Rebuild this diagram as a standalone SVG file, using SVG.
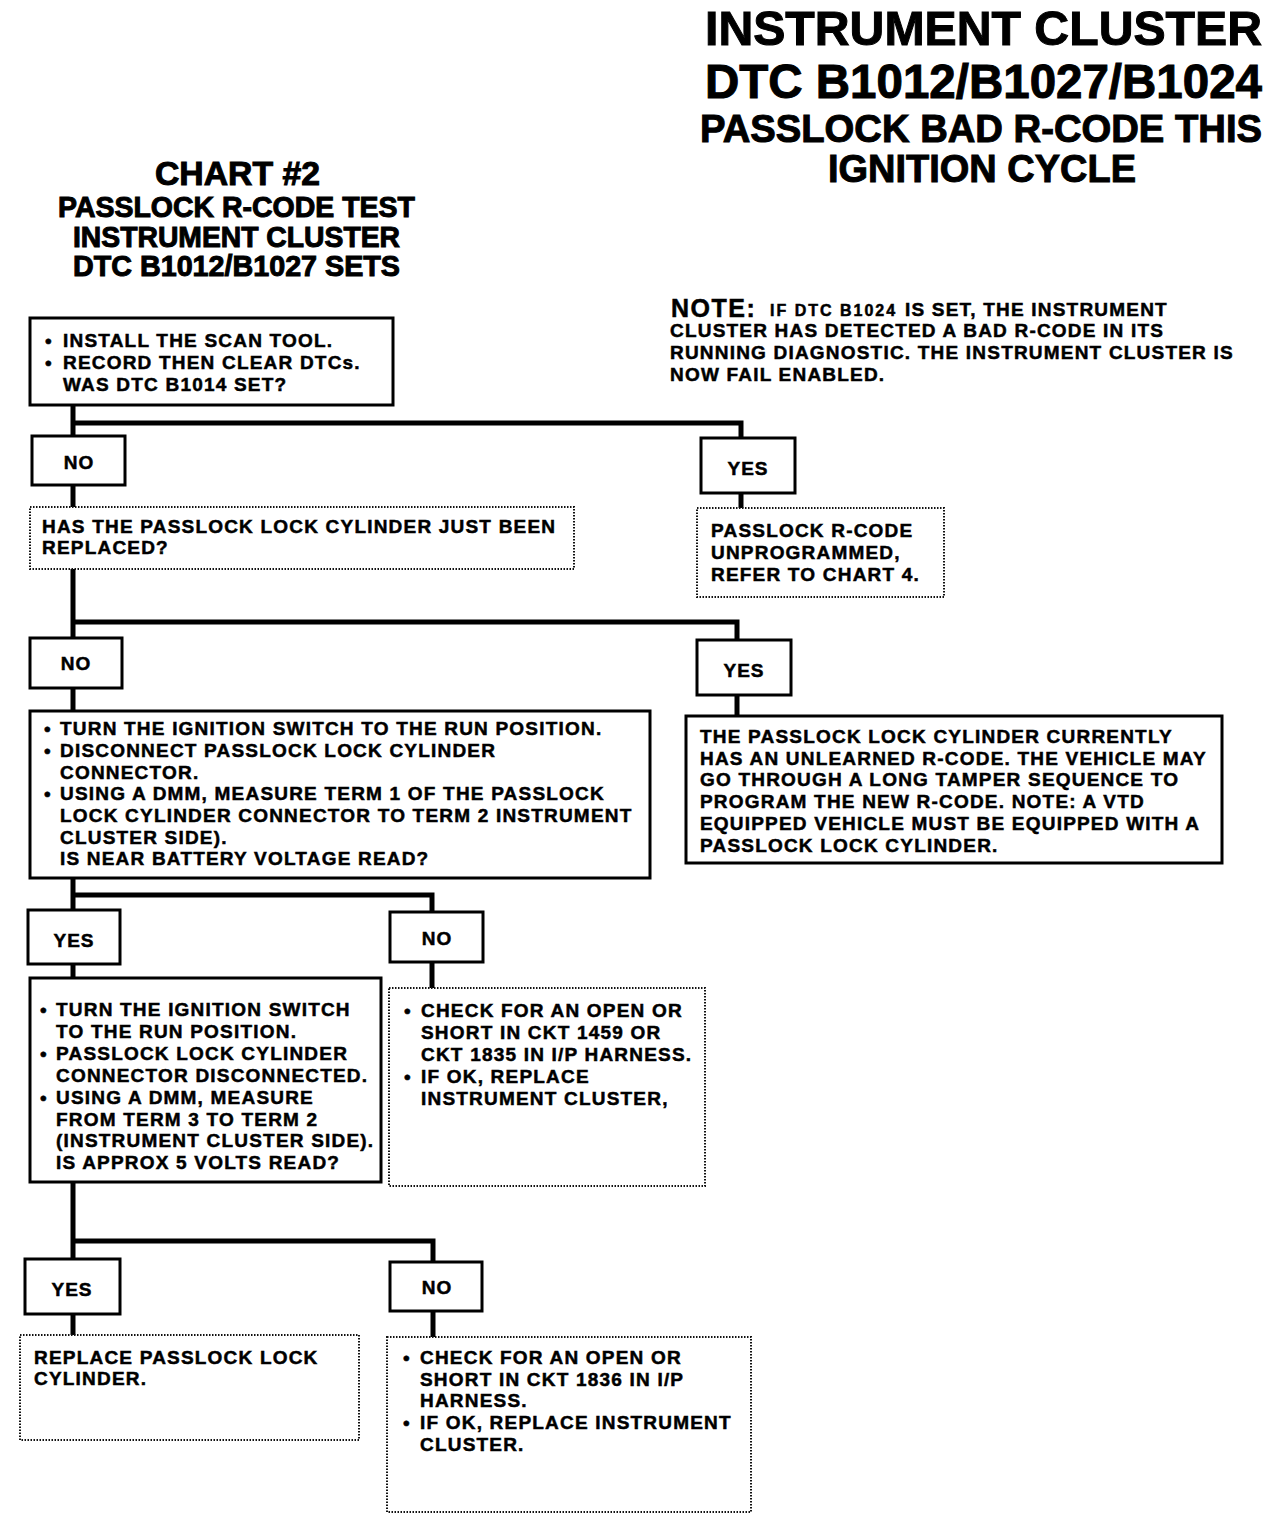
<svg xmlns="http://www.w3.org/2000/svg" width="1280" height="1528" viewBox="0 0 1280 1528">
<style>
text{font-family:"Liberation Sans",Arial,Helvetica,sans-serif;font-weight:bold;fill:#000;stroke:#000;stroke-width:0.5px}
.t{font-size:19px;letter-spacing:1.2px}
.lbl{font-size:19px;letter-spacing:1px;text-anchor:middle}
.h{stroke-width:1px}
.box{fill:#fff;stroke:#000;stroke-width:3}
.dot{fill:#fff;stroke:#111;stroke-width:2;stroke-dasharray:1.5 1.5}
.conn{fill:none;stroke:#000;stroke-width:5;stroke-linecap:butt;stroke-linejoin:miter}
</style>
<rect width="1280" height="1528" fill="#fff"/>
<g id="title">
<text class="h" x="705" y="45" font-size="48" textLength="557" lengthAdjust="spacingAndGlyphs">INSTRUMENT CLUSTER</text>
<text class="h" x="705" y="98" font-size="48" textLength="557" lengthAdjust="spacingAndGlyphs">DTC B1012/B1027/B1024</text>
<text class="h" x="700" y="142" font-size="38" textLength="562" lengthAdjust="spacingAndGlyphs">PASSLOCK BAD R-CODE THIS</text>
<text class="h" x="828" y="182" font-size="39" textLength="308" lengthAdjust="spacingAndGlyphs">IGNITION CYCLE</text>
</g>
<g id="chart-title">
<text class="h" x="155" y="185" font-size="34" textLength="165" lengthAdjust="spacingAndGlyphs">CHART #2</text>
<text class="h" x="58" y="217" font-size="29" textLength="357" lengthAdjust="spacingAndGlyphs">PASSLOCK R-CODE TEST</text>
<text class="h" x="73" y="247" font-size="29" textLength="327" lengthAdjust="spacingAndGlyphs">INSTRUMENT CLUSTER</text>
<text class="h" x="73" y="276" font-size="29" textLength="327" lengthAdjust="spacingAndGlyphs">DTC B1012/B1027 SETS</text>
</g>
<g id="note">
<text x="671" y="317" font-size="25" letter-spacing="1.5">NOTE:</text>
<text x="770" y="316" font-size="16" letter-spacing="2">IF DTC B1024</text>
<text class="t" x="905" y="316">IS SET, THE INSTRUMENT</text>
<text class="t" x="670" y="337">CLUSTER HAS DETECTED A BAD R-CODE IN ITS</text>
<text class="t" x="670" y="359">RUNNING DIAGNOSTIC. THE INSTRUMENT CLUSTER IS</text>
<text class="t" x="670" y="381">NOW FAIL ENABLED.</text>
</g>
<g id="connectors">
<path class="conn" d="M73 405 V436 M73 423 H741 V438"/>
<path class="conn" d="M73 485 V507"/>
<path class="conn" d="M741 493 V508"/>
<path class="conn" d="M73 569 V638 M73 622 H737 V640"/>
<path class="conn" d="M73 688 V711"/>
<path class="conn" d="M737 695 V716"/>
<path class="conn" d="M73 878 V910 M73 895 H432 V912"/>
<path class="conn" d="M73 964 V978"/>
<path class="conn" d="M432 962 V988"/>
<path class="conn" d="M73 1182 V1259 M73 1241 H433 V1262"/>
<path class="conn" d="M73 1314 V1335"/>
<path class="conn" d="M433 1311 V1337"/>
</g>
<g id="n1">
<rect class="box" x="30" y="318" width="363" height="87"/>
<text class="t" x="45" y="347">•</text><text class="t" x="63" y="347">INSTALL THE SCAN TOOL.</text>
<text class="t" x="45" y="369">•</text><text class="t" x="63" y="369">RECORD THEN CLEAR DTCs.</text>
<text class="t" x="63" y="391">WAS DTC B1014 SET?</text>
</g>
<g id="n1-no">
<rect class="box" x="32" y="436" width="93" height="49"/>
<text class="lbl" x="79" y="469">NO</text>
</g>
<g id="n1-yes">
<rect class="box" x="701" y="438" width="94" height="55"/>
<text class="lbl" x="748" y="475">YES</text>
</g>
<g id="n2">
<rect class="dot" x="30" y="507" width="544" height="62"/>
<text class="t" x="42" y="533">HAS THE PASSLOCK LOCK CYLINDER JUST BEEN</text>
<text class="t" x="42" y="554">REPLACED?</text>
</g>
<g id="n3">
<rect class="dot" x="697" y="508" width="247" height="89"/>
<text class="t" x="711" y="537">PASSLOCK R-CODE</text>
<text class="t" x="711" y="559">UNPROGRAMMED,</text>
<text class="t" x="711" y="581">REFER TO CHART 4.</text>
</g>
<g id="n2-no">
<rect class="box" x="30" y="638" width="92" height="50"/>
<text class="lbl" x="76" y="670">NO</text>
</g>
<g id="n2-yes">
<rect class="box" x="697" y="640" width="94" height="55"/>
<text class="lbl" x="744" y="677">YES</text>
</g>
<g id="n4">
<rect class="box" x="30" y="711" width="620" height="167"/>
<text class="t" x="44" y="735">•</text><text class="t" x="60" y="735">TURN THE IGNITION SWITCH TO THE RUN POSITION.</text>
<text class="t" x="44" y="757">•</text><text class="t" x="60" y="757">DISCONNECT PASSLOCK LOCK CYLINDER</text>
<text class="t" x="60" y="779">CONNECTOR.</text>
<text class="t" x="44" y="800">•</text><text class="t" x="60" y="800">USING A DMM, MEASURE TERM 1 OF THE PASSLOCK</text>
<text class="t" x="60" y="822">LOCK CYLINDER CONNECTOR TO TERM 2 INSTRUMENT</text>
<text class="t" x="60" y="844">CLUSTER SIDE).</text>
<text class="t" x="60" y="865">IS NEAR BATTERY VOLTAGE READ?</text>
</g>
<g id="n5">
<rect class="box" x="686" y="716" width="536" height="147"/>
<text class="t" x="700" y="743">THE PASSLOCK LOCK CYLINDER CURRENTLY</text>
<text class="t" x="700" y="765">HAS AN UNLEARNED R-CODE. THE VEHICLE MAY</text>
<text class="t" x="700" y="786">GO THROUGH A LONG TAMPER SEQUENCE TO</text>
<text class="t" x="700" y="808">PROGRAM THE NEW R-CODE. NOTE: A VTD</text>
<text class="t" x="700" y="830">EQUIPPED VEHICLE MUST BE EQUIPPED WITH A</text>
<text class="t" x="700" y="852">PASSLOCK LOCK CYLINDER.</text>
</g>
<g id="n4-yes">
<rect class="box" x="28" y="910" width="92" height="54"/>
<text class="lbl" x="74" y="947">YES</text>
</g>
<g id="n4-no">
<rect class="box" x="390" y="912" width="93" height="50"/>
<text class="lbl" x="437" y="945">NO</text>
</g>
<g id="n6">
<rect class="box" x="30" y="978" width="351" height="204"/>
<text class="t" x="40" y="1016">•</text><text class="t" x="56" y="1016">TURN THE IGNITION SWITCH</text>
<text class="t" x="56" y="1038">TO THE RUN POSITION.</text>
<text class="t" x="40" y="1060">•</text><text class="t" x="56" y="1060">PASSLOCK LOCK CYLINDER</text>
<text class="t" x="56" y="1082">CONNECTOR DISCONNECTED.</text>
<text class="t" x="40" y="1104">•</text><text class="t" x="56" y="1104">USING A DMM, MEASURE</text>
<text class="t" x="56" y="1126">FROM TERM 3 TO TERM 2</text>
<text class="t" x="56" y="1147">(INSTRUMENT CLUSTER SIDE).</text>
<text class="t" x="56" y="1169">IS APPROX 5 VOLTS READ?</text>
</g>
<g id="n7">
<rect class="dot" x="389" y="988" width="316" height="198"/>
<text class="t" x="404" y="1017">•</text><text class="t" x="421" y="1017">CHECK FOR AN OPEN OR</text>
<text class="t" x="421" y="1039">SHORT IN CKT 1459 OR</text>
<text class="t" x="421" y="1061">CKT 1835 IN I/P HARNESS.</text>
<text class="t" x="404" y="1083">•</text><text class="t" x="421" y="1083">IF OK, REPLACE</text>
<text class="t" x="421" y="1105">INSTRUMENT CLUSTER,</text>
</g>
<g id="n6-yes">
<rect class="box" x="25" y="1259" width="95" height="55"/>
<text class="lbl" x="72" y="1296">YES</text>
</g>
<g id="n6-no">
<rect class="box" x="390" y="1262" width="92" height="49"/>
<text class="lbl" x="437" y="1294">NO</text>
</g>
<g id="n8">
<rect class="dot" x="20" y="1335" width="339" height="105"/>
<text class="t" x="34" y="1364">REPLACE PASSLOCK LOCK</text>
<text class="t" x="34" y="1385">CYLINDER.</text>
</g>
<g id="n9">
<rect class="dot" x="387" y="1337" width="364" height="175"/>
<text class="t" x="403" y="1364">•</text><text class="t" x="420" y="1364">CHECK FOR AN OPEN OR</text>
<text class="t" x="420" y="1386">SHORT IN CKT 1836 IN I/P</text>
<text class="t" x="420" y="1407">HARNESS.</text>
<text class="t" x="403" y="1429">•</text><text class="t" x="420" y="1429">IF OK, REPLACE INSTRUMENT</text>
<text class="t" x="420" y="1451">CLUSTER.</text>
</g>
</svg>
